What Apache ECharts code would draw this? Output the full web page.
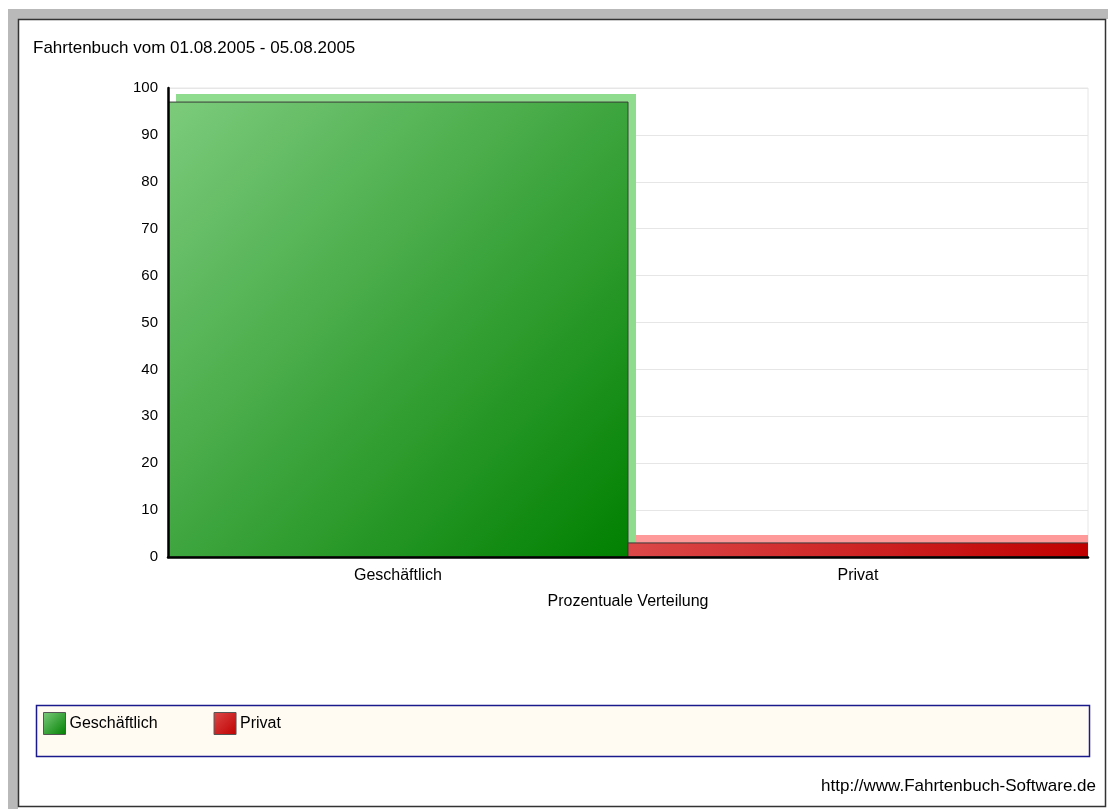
<!DOCTYPE html>
<html>
<head>
<meta charset="utf-8">
<script src="https://cdn.jsdelivr.net/npm/echarts@6/dist/echarts.min.js"></script>
<style>
html,body{margin:0;padding:0;background:#fff;}
#c{width:1108px;height:809px;}
</style>
</head>
<body>
<div id="c"></div>
<script>
const titleText = 'Fahrtenbuch vom 01.08.2005 - 05.08.2005';
const categories = ['Geschäftlich', 'Privat'];
const values = [97, 3];
const yTicks = [0, 10, 20, 30, 40, 50, 60, 70, 80, 90, 100];
const axisName = 'Prozentuale Verteilung';
const footerText = 'http://www.Fahrtenbuch-Software.de';

const FONT = '"Liberation Sans", Arial, sans-serif';
const palettes = [
  { light: '#7ccb7c', dark: '#008000', back: '#8fdc8f' },
  { light: '#dc4848', dark: '#c00000', back: '#ff9a9a' }
];

function grad(p) {
  return new echarts.graphic.LinearGradient(0, 0, 1, 1, [
    { offset: 0, color: p.light }, { offset: 1, color: p.dark }
  ]);
}

const chart = echarts.init(document.getElementById('c'), null, { renderer: 'canvas' });

const series = categories.map((name, i) => ({
  name: name,
  type: 'custom',
  clip: true,
  z: 5,
  itemStyle: { color: grad(palettes[i]), borderColor: '#444', borderWidth: 1 },
  data: [[i, values[i]]],
  renderItem: function (params, api) {
    const x = api.value(0), v = api.value(1);
    const top = api.coord([x, v]);
    const base = api.coord([x, 0]);
    const w = api.size([1, 0])[0];
    const left = base[0] - w / 2;
    const h = base[1] - top[1];
    const d = 8;
    const p = palettes[i];
    return {
      type: 'group',
      children: [
        { type: 'rect', shape: { x: left + d, y: top[1] - d, width: w, height: h },
          style: { fill: p.back } },
        { type: 'rect', shape: { x: left, y: top[1], width: w, height: h },
          style: { fill: grad(p), stroke: '#3a3a3a', lineWidth: 1 } }
      ]
    };
  }
}));

const option = {
  backgroundColor: '#ffffff',
  animation: false,
  textStyle: { fontFamily: FONT },
  title: {
    text: titleText, left: 33, top: 40, padding: 0,
    textStyle: { fontFamily: FONT, fontSize: 17, fontWeight: 'normal', color: '#000' }
  },
  grid: {
    left: 168, right: 20, top: 88, bottom: 252,
    show: true, borderColor: '#e6e6e6', borderWidth: 1, backgroundColor: 'transparent'
  },
  xAxis: {
    type: 'category', data: categories,
    boundaryGap: true,
    name: axisName, nameLocation: 'middle', nameGap: 37,
    nameTextStyle: { fontFamily: FONT, fontSize: 16, color: '#000' },
    axisLine: { show: true, lineStyle: { color: '#000', width: 2.5 } },
    axisTick: { show: false },
    axisLabel: { margin: 11, fontFamily: FONT, fontSize: 16, color: '#000' },
    splitLine: { show: false },
    z: 10
  },
  yAxis: [
    {
      type: 'value', min: 0, max: 100, interval: 10,
      axisLine: { show: true, lineStyle: { color: '#000', width: 2.5 } },
      axisTick: { show: false },
      axisLabel: { margin: 10, fontFamily: FONT, fontSize: 15, color: '#000',
        formatter: v => yTicks.includes(v) ? String(v) : '' },
      splitLine: { show: false },
      z: 10
    },
    {
      type: 'value', min: 0, max: 100, interval: 10, position: 'left',
      axisLine: { show: false }, axisTick: { show: false }, axisLabel: { show: false },
      splitLine: { show: true, lineStyle: { color: '#e6e6e6', width: 1 } },
      z: 0
    }
  ],
  legend: {
    left: 43, top: 712, padding: 0, itemGap: 56,
    itemWidth: 22, itemHeight: 22, icon: 'rect',
    data: categories,
    textStyle: { fontFamily: FONT, fontSize: 16, color: '#000', padding: [3, 0, 0, -1] },
    itemStyle: { borderColor: '#555', borderWidth: 1 }
  },
  graphic: [
    { type: 'rect', z: -10, silent: true, shape: { x: 8, y: 9, width: 1100, height: 10 }, style: { fill: '#b9b9b9' } },
    { type: 'rect', z: -10, silent: true, shape: { x: 8, y: 9, width: 10, height: 800 }, style: { fill: '#b9b9b9' } },
    { type: 'rect', z: -9, silent: true, shape: { x: 18.5, y: 19.5, width: 1087, height: 787 }, style: { fill: '#fff', stroke: '#333', lineWidth: 1.5 } },
    { type: 'rect', z: -5, silent: true, shape: { x: 36.5, y: 705.5, width: 1053, height: 51 }, style: { fill: '#fffbf3', stroke: '#1a1a8c', lineWidth: 1.5 } },
    { type: 'text', z: 5, silent: true, right: 12, top: 778,
      style: { text: footerText, font: '17px ' + FONT, fill: '#000' } }
  ],
  series: series
};
chart.setOption(option);
</script>
</body>
</html>
